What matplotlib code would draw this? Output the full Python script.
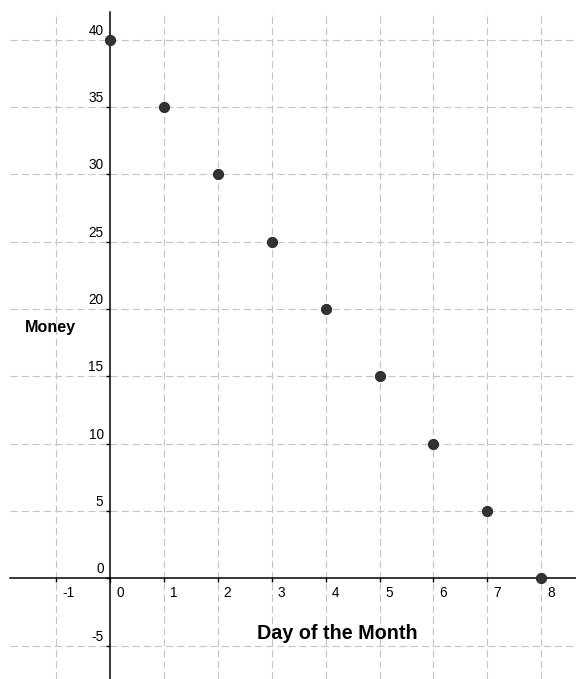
import numpy as np
import matplotlib
matplotlib.use("Agg")
from matplotlib import pyplot as plt
from matplotlib.transforms import offset_copy

plt.rcParams['font.family'] = ['Liberation Sans', 'DejaVu Sans']

# data
day = [0, 1, 2, 3, 4, 5, 6, 7, 8]
money = [40, 35, 30, 25, 20, 15, 10, 5, 0]
xticks = [-1, 0, 1, 2, 3, 4, 5, 6, 7, 8]
yticks = [-5, 0, 5, 10, 15, 20, 25, 30, 35, 40]

# pixel geometry of the reference (576x679)
W, H = 576, 679
x0px, y0px = 110.0, 578.3
sx, sy = 53.9, 13.467
xmin, xmax = (0 - x0px) / sx, (W - x0px) / sx
ymin, ymax = -(H - y0px) / sy, y0px / sy
left = (10 - x0px) / sx      # where axes/grid start on the left
top = (y0px - 12) / sy       # where axes/grid start at the top

fig = plt.figure(figsize=(W / 100, H / 100), dpi=100)
ax = fig.add_axes([0, 0, 1, 1])
ax.set_xlim(xmin, xmax)
ax.set_ylim(ymin, ymax)

gridcol = '#c4c4c4'
for x in xticks:
    if x == 0:
        continue
    ax.plot([x, x], [ymin, top], color=gridcol, lw=0.8, dashes=(6.5, 3.5), zorder=1)
for y in yticks:
    if y == 0:
        continue
    ax.plot([left, xmax], [y, y], color=gridcol, lw=0.8, dashes=(6.5, 3.5), zorder=1)

# axes through the origin
for s in ['top', 'right']:
    ax.spines[s].set_visible(False)
ax.spines['left'].set_position(('data', 0))
ax.spines['bottom'].set_position(('data', 0))
ax.spines['left'].set_bounds(ymin, top)
ax.spines['bottom'].set_bounds(left, xmax)
for s in ['left', 'bottom']:
    ax.spines[s].set_linewidth(1.1)
    ax.spines[s].set_color('black')
    ax.spines[s].set_zorder(2)
ax.set_xticks(xticks)
ax.set_yticks(yticks)
ax.tick_params(direction='out', length=3, width=1, labelbottom=False, labelleft=False)

# tick labels, GeoGebra style
tx = offset_copy(ax.transData, fig=fig, x=6, y=-15, units='dots')
for x in xticks:
    ax.text(x, 0, str(x), transform=tx, ha='left', va='center', fontsize=9.8)
ty = offset_copy(ax.transData, fig=fig, x=-6.5, y=9, units='dots')
for y in yticks:
    ax.text(0, y, str(y), transform=ty, ha='right', va='center', fontsize=9.8)

ax.plot(day, money, 'o', color='#333333', markersize=7.4, markeredgecolor='#222222',
        markeredgewidth=0.6, zorder=5, clip_on=False)

ax.text((257 - x0px) / sx, (y0px - 639) / sy, 'Day of the Month', fontsize=14.2,
        fontweight='bold', ha='left', va='baseline')
ax.text((25 - x0px) / sx, (y0px - 327) / sy, 'Money', fontsize=11.6,
        fontweight='bold', ha='left', va='center')

plt.savefig('out.png', dpi=100)
